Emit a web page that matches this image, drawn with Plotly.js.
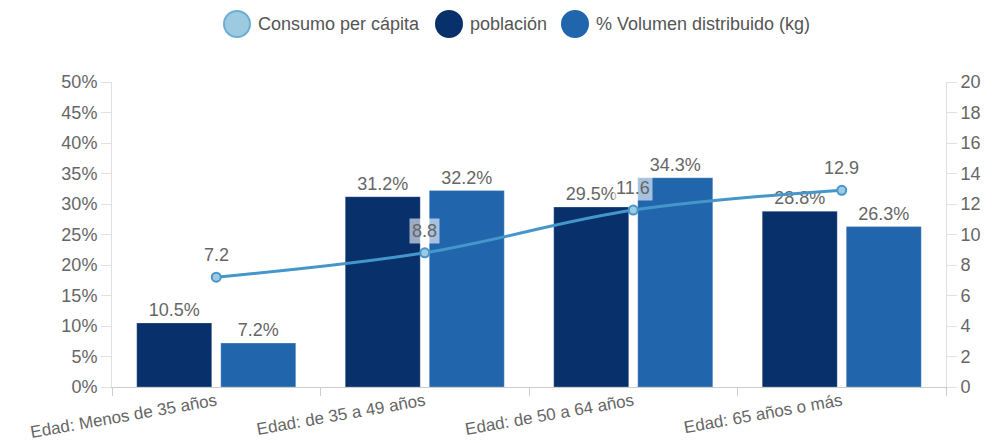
<!DOCTYPE html>
<html><head><meta charset="utf-8">
<script src="https://cdn.plot.ly/plotly-3.0.1.min.js"></script>
<style>html,body{margin:0;padding:0;background:#fff}</style>
</head><body>
<div id="chart" style="width:993px;height:443px"></div>
<script>
const categories = ["Edad: Menos de 35 años", "Edad: de 35 a 49 años", "Edad: de 50 a 64 años", "Edad: 65 años o más"];
const seriesNames = ["Consumo per cápita", "población", "% Volumen distribuido (kg)"];
const poblacion = [10.5, 31.2, 29.5, 28.8];
const volumen = [7.2, 32.2, 34.3, 26.3];
const consumo = [7.2, 8.8, 11.6, 12.9];
const leftTicks = [0,5,10,15,20,25,30,35,40,45,50];
const rightTicks = [0,2,4,6,8,10,12,14,16,18,20];

const FONT = "Liberation Sans, Arial, sans-serif";
const cPob = "#08306b", cVol = "#2166ac", cLine = "#4596cb", cLineFill = "#9ecae1";
const FS = 18;

const traces = [
  {type:"bar", name:seriesNames[1], x:categories, y:poblacion,
   marker:{color:cPob, line:{color:"rgba(255,255,255,0.25)", width:1}},
   text:poblacion.map(v=>v.toFixed(1)+"%"), textposition:"outside", cliponaxis:false,
   textfont:{color:"#666", size:FS, family:FONT}, showlegend:false, hoverinfo:"skip"},
  {type:"bar", name:seriesNames[2], x:categories, y:volumen,
   marker:{color:cVol, line:{color:"rgba(255,255,255,0.25)", width:1}},
   text:volumen.map(v=>v.toFixed(1)+"%"), textposition:"outside", cliponaxis:false,
   textfont:{color:"#666", size:FS, family:FONT}, showlegend:false, hoverinfo:"skip"},
  {type:"scatter", mode:"lines+markers", name:seriesNames[0], x:categories, y:consumo, yaxis:"y2",
   line:{color:cLine, width:3, shape:"spline", smoothing:1},
   marker:{size:9, color:cLineFill, line:{color:cLine, width:2}}, showlegend:false, cliponaxis:false}
];

const annotations = consumo.map((v,i)=>({
  x:categories[i], y:v, xref:"x", yref:"y2", text:v.toFixed(1), showarrow:false,
  yshift:22, font:{color:"#666", size:FS, family:FONT},
  bgcolor:"rgba(255,255,255,0.6)", borderpad:2
}));

// custom legend (large circle symbols)
const legColors = [[cLineFill, "#6baed6"], [cPob, cPob], [cVol, cVol]];
const legPx = [237, 449, 575];
const plotL = 112, plotW = 834, plotT = 82, plotH = 305;
const legY = 1 + (plotT - 24) / plotH;
const shapes = [];
legPx.forEach((px,i)=>{
  const xp = (px - plotL) / plotW;
  shapes.push({type:"circle", xref:"paper", yref:"paper", xsizemode:"pixel", ysizemode:"pixel",
    xanchor:xp, yanchor:legY, x0:-13, x1:13, y0:-13, y1:13,
    fillcolor:legColors[i][0], line:{color:legColors[i][1], width:2}});
  annotations.push({xref:"paper", yref:"paper", x:(px + 19 - plotL)/plotW, y:legY,
    xanchor:"left", yanchor:"middle", text:seriesNames[i], showarrow:false,
    font:{size:FS, color:"#555", family:FONT}});
});

const layout = {
  width:993, height:443,
  margin:{l:112, r:47, t:82, b:56},
  paper_bgcolor:"#fff", plot_bgcolor:"#fff",
  font:{family:FONT, color:"#666", size:FS},
  barmode:"group", bargap:0.194, bargroupgap:0.107,
  showlegend:false,
  xaxis:{type:"category", showline:true, linecolor:"#ccc", linewidth:1, automargin:false,
         ticks:"outside", tickson:"boundaries", ticklen:8, tickcolor:"#ccc",
         tickangle:-10, ticklabelstandoff:-3, tickfont:{size:17, color:"#666"}, showgrid:false},
  yaxis:{range:[0,50], tickvals:leftTicks, ticktext:leftTicks.map(v=>v+"%"), automargin:false,
         showgrid:false, zeroline:false, showline:true, linecolor:"#e0e0e0",
         ticks:"outside", ticklen:10, tickcolor:"#e0e0e0", tickfont:{size:FS, color:"#666"}},
  yaxis2:{range:[0,20], tickvals:rightTicks, overlaying:"y", side:"right", automargin:false,
          showgrid:false, zeroline:false, showline:true, linecolor:"#e0e0e0",
          ticks:"outside", ticklen:10, tickcolor:"#e0e0e0", tickfont:{size:FS, color:"#666"}},
  shapes:shapes,
  annotations:annotations
};

Plotly.newPlot("chart", traces, layout, {displayModeBar:false, staticPlot:true});
</script>
</body></html>
